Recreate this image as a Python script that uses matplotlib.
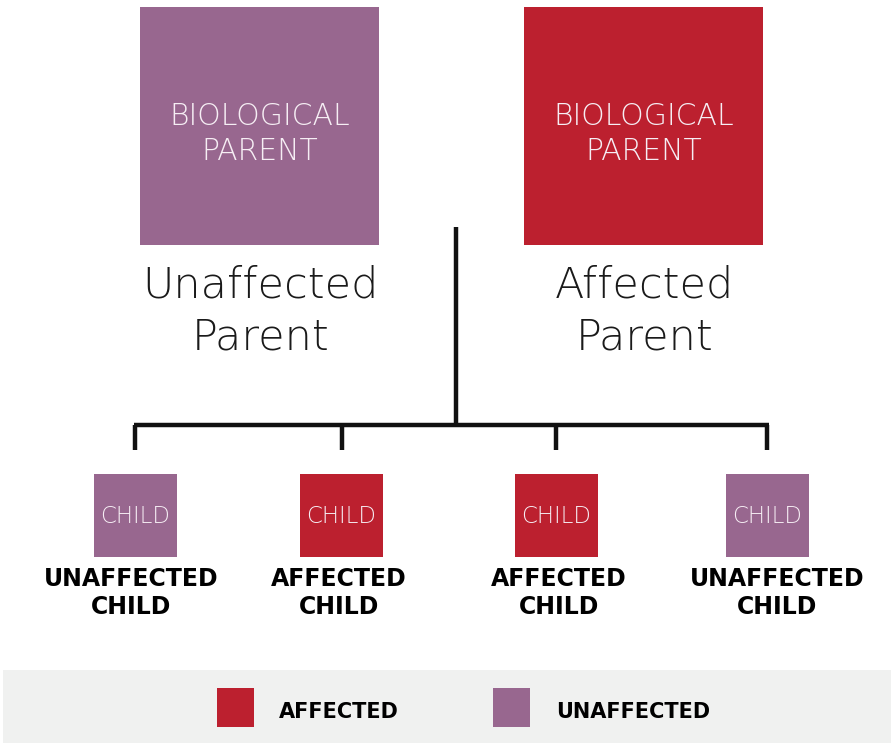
import matplotlib
matplotlib.use("Agg")
import matplotlib.pyplot as plt
from matplotlib.patches import Rectangle

# ---- data ----
parent_status = ["unaffected", "affected"]
parent_box_text = ["BIOLOGICAL\nPARENT", "BIOLOGICAL\nPARENT"]
parent_labels = ["Unaffected\nParent", "Affected\nParent"]
child_status = ["unaffected", "affected", "affected", "unaffected"]
child_box_text = ["CHILD", "CHILD", "CHILD", "CHILD"]
child_labels = ["UNAFFECTED\nCHILD", "AFFECTED\nCHILD", "AFFECTED\nCHILD", "UNAFFECTED\nCHILD"]
legend_status = ["affected", "unaffected"]
legend_labels = ["AFFECTED", "UNAFFECTED"]

colors = {"affected": "#bc202f", "unaffected": "#98678f"}

# ---- layout (pixel coordinates) ----
W, H = 891, 743
fig = plt.figure(figsize=(W / 100, H / 100), dpi=100)
ax = fig.add_axes([0, 0, 1, 1])
ax.set_xlim(0, W)
ax.set_ylim(H, 0)
ax.axis("off")

light = dict(family=["DejaVu Sans"], fontweight=200)
bold = dict(family=["DejaVu Sans"], fontweight="bold")

parent_x = [140, 524]
parent_size = 239
parent_y = 7
for x, st, bt, lab in zip(parent_x, parent_status, parent_box_text, parent_labels):
    ax.add_patch(Rectangle((x, parent_y), parent_size, parent_size - 1, color=colors[st], lw=0))
    ax.text(x + parent_size / 2, 134, bt, ha="center", va="center",
            color="#f6eef4", fontsize=21.5, linespacing=1.3, **light)
    ax.text(x + parent_size / 2 + 1, 311, lab, ha="center", va="center",
            color="#1a1a1a", fontsize=31, linespacing=1.35, **light)

# connecting lines
lw = 3.2
line_color = "#111111"
ax.plot([456, 456], [227, 425], color=line_color, lw=lw, solid_capstyle="butt")
drop_x = [135, 342, 556, 767]
ax.plot([drop_x[0] - 1.5, drop_x[-1] + 1.5], [425, 425], color=line_color, lw=lw, solid_capstyle="butt")
for dx in drop_x:
    ax.plot([dx, dx], [425, 450], color=line_color, lw=lw, solid_capstyle="butt")

# children
child_x = [94, 300, 515, 726]
child_label_x = [131, 339, 559, 777]
child_size = 83
child_y = 474
for x, lx, st, bt, lab in zip(child_x, child_label_x, child_status, child_box_text, child_labels):
    ax.add_patch(Rectangle((x, child_y), child_size, child_size, color=colors[st], lw=0))
    ax.text(x + child_size / 2, child_y + child_size / 2 + 1, bt, ha="center", va="center",
            color="#f6eef4", fontsize=16.5, **light)
    ax.text(lx, 593, lab, ha="center", va="center", color="black",
            fontsize=17, linespacing=1.22, **bold)

# legend band
ax.add_patch(Rectangle((3, 670), W - 3, H - 670, color="#f0f1f0", lw=0))
leg_sq_x = [217, 493]
leg_txt_x = [279, 556]
for sx, tx, st, lab in zip(leg_sq_x, leg_txt_x, legend_status, legend_labels):
    ax.add_patch(Rectangle((sx, 688), 37, 39, color=colors[st], lw=0))
    ax.text(tx, 712, lab, ha="left", va="center", color="black", fontsize=15, **bold)

fig.savefig("out.png", dpi=100, facecolor="white")
